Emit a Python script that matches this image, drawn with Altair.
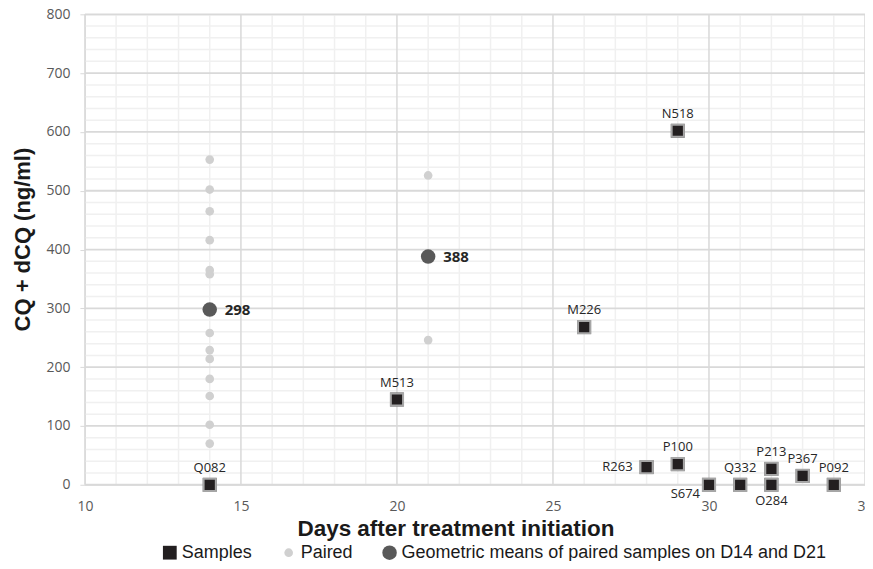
import altair as alt
import pandas as pd

# ---- data ----
paired_day = [14]*13 + [21, 21]
paired_val = [553, 502, 465, 416, 365, 358, 258, 229, 214, 180, 151, 102, 70, 526, 246]

mean_day = [14, 21]
mean_val = [298, 388]

sample_ids = ["Q082", "M513", "M226", "N518", "R263", "P100", "S674", "Q332", "P213", "O284", "P367", "P092"]
sample_day = [14, 20, 26, 29, 28, 29, 30, 31, 32, 32, 33, 34]
sample_val = [0, 145, 268, 602, 30, 35, 0, 0, 27, 0, 15, 0]

labels_above = ["Q082", "M513", "M226", "N518", "P100", "Q332", "P213", "P367", "P092"]
labels_left = ["R263"]
labels_below_left = ["S674"]
labels_below = ["O284"]

series_names = ["Samples", "Paired", "Geometric means of paired samples on D14 and D21"]

x_major = [10, 15, 20, 25, 30, 35]
x_minor = [d for d in range(10, 36) if d % 5 != 0]
y_major = list(range(0, 801, 100))
y_minor = [v for v in range(0, 801, 20) if v % 100 != 0]

# ---- tables ----
pts = pd.DataFrame(
    {"day": paired_day, "val": paired_val, "series": series_names[1], "id": ""}
)
pts = pd.concat([
    pts,
    pd.DataFrame({"day": mean_day, "val": mean_val, "series": series_names[2], "id": [str(v) for v in mean_val]}),
    pd.DataFrame({"day": sample_day, "val": sample_val, "series": series_names[0], "id": sample_ids}),
], ignore_index=True)
pts["order"] = range(len(pts))
samples = pts[pts.series == series_names[0]]
means = pts[pts.series == series_names[2]]

xs = alt.Scale(domain=[10, 35], nice=False)
ys = alt.Scale(domain=[0, 800], nice=False)

MAJOR = "#d9d9d9"
MINOR = "#f0f0f0"

x_axis = alt.Axis(
    values=x_major, title="Days after treatment initiation", grid=False, domain=False,
    ticks=False, labelPadding=15, labelFont="Open Sans", labelFontSize=14, labelColor="#595959",
    titleFont="Liberation Sans", titleFontSize=22.5, titleFontWeight="bold", titleColor="#1a1a1a",
    titlePadding=4, titleX=371, labelFlush=False, labelOverlap=False,
)
y_axis = alt.Axis(
    values=y_major, title="CQ + dCQ (ng/ml)", grid=False, domain=False,
    ticks=True, tickSize=5, tickColor=MAJOR, labelPadding=10, labelFont="Open Sans",
    labelFontSize=14, labelColor="#595959",
    titleFont="Liberation Sans", titleFontSize=22, titleFontWeight="bold", titleColor="#1a1a1a",
    titlePadding=11, titleY=225,
)

def X(f):
    return alt.X(f, scale=xs, axis=x_axis)

def Y(f):
    return alt.Y(f, scale=ys, axis=y_axis)

xminor = alt.Chart(pd.DataFrame({"g": x_minor})).mark_rule(color=MINOR, strokeWidth=1.5).encode(x=X("g:Q"))
yminor = alt.Chart(pd.DataFrame({"g": y_minor})).mark_rule(color=MINOR, strokeWidth=1.5).encode(y=Y("g:Q"))
xmajor = alt.Chart(pd.DataFrame({"g": x_major})).mark_rule(color=MAJOR, strokeWidth=1.5).encode(x=X("g:Q"))
ymajor = alt.Chart(pd.DataFrame({"g": y_major})).mark_rule(color=MAJOR, strokeWidth=1.8).encode(y=Y("g:Q"))

legend = alt.Legend(
    orient="none", legendX=76, legendY=530, direction="horizontal", title=None,
    labelFont="Liberation Sans", labelFontSize=18, labelColor="#1a1a1a", labelLimit=0,
    columnPadding=27, symbolStrokeWidth=0, labelOffset=3,
)

dom = series_names
base = alt.Chart(pts).mark_point(filled=True, opacity=1).encode(
    x=X("day:Q"),
    y=Y("val:Q"),
    color=alt.Color("series:N", scale=alt.Scale(domain=dom, range=["#231f20", "#d0d0d0", "#595959"]), legend=legend),
    shape=alt.Shape("series:N", scale=alt.Scale(domain=dom, range=["square", "circle", "circle"]), legend=legend),
    size=alt.Size("series:N", scale=alt.Scale(type="ordinal", domain=dom, range=[190, 75, 210]), legend=legend),
    order=alt.Order("order:Q"),
)

sq = alt.Chart(samples).mark_point(
    filled=True, shape="square", size=150, color="#231f20", stroke="#a6a6a6", strokeWidth=2, opacity=1
).encode(x=X("day:Q"), y=Y("val:Q"))

def lab(ids, **kw):
    return alt.Chart(samples[samples.id.isin(ids)]).mark_text(
        font="Open Sans", fontSize=13, color="#262626", **kw
    ).encode(x=X("day:Q"), y=Y("val:Q"), text="id:N")

t_above = lab(labels_above, dy=-17, baseline="middle")
t_left = lab(labels_left, dx=-14, align="right", baseline="middle")
t_bl = lab(labels_below_left, dx=-9, dy=9, align="right", baseline="middle")
t_below = lab(labels_below, dy=16, baseline="middle")

t_mean = alt.Chart(means).mark_text(
    font="Open Sans", fontSize=15, fontWeight="bold", color="#262626", dx=15, align="left", baseline="middle"
).encode(x=X("day:Q"), y=Y("val:Q"), text="id:N")

chart = alt.layer(
    xminor, yminor, xmajor, ymajor, base, sq, t_above, t_left, t_bl, t_below, t_mean
).properties(
    width=781, height=471,
    autosize=alt.AutoSizeParams(type="none"),
    padding={"left": 77, "top": 6, "right": 0, "bottom": 76},
).configure_view(stroke=None).configure(background="white")

chart.save("out.html", embed_options={"renderer": "svg", "actions": False})
